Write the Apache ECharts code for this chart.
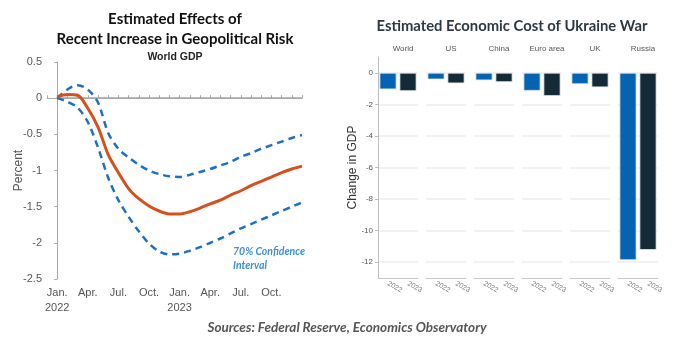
<!DOCTYPE html>
<html>
<head>
<meta charset="utf-8">
<script src="https://cdn.jsdelivr.net/npm/echarts@6/dist/echarts.min.js"></script>
<style>
  html, body { margin: 0; padding: 0; background: #fff; }
  #chart { width: 700px; height: 351px; }
</style>
</head>
<body>
<div id="chart"></div>
<script>
// left panel: world GDP response, months since Jan 2022
var months = [0, 1, 2, 3, 4, 5, 6, 7, 8, 9, 10, 11, 12, 13, 14, 15, 16, 17, 18, 19, 20, 21, 22, 23, 24];
var central = [0.02, 0.05, 0.04, -0.14, -0.40, -0.78, -1.03, -1.25, -1.39, -1.49, -1.56, -1.60, -1.60, -1.57, -1.52, -1.46, -1.41, -1.34, -1.28, -1.21, -1.15, -1.09, -1.03, -0.98, -0.94];
var upper = [0.0, 0.12, 0.18, 0.12, -0.06, -0.48, -0.70, -0.82, -0.92, -1.00, -1.05, -1.08, -1.09, -1.06, -1.02, -0.98, -0.93, -0.88, -0.81, -0.76, -0.70, -0.65, -0.60, -0.55, -0.51];
var lower = [0.0, -0.05, -0.13, -0.33, -0.68, -1.10, -1.41, -1.64, -1.84, -2.01, -2.12, -2.16, -2.15, -2.11, -2.06, -2.00, -1.94, -1.87, -1.80, -1.74, -1.68, -1.62, -1.56, -1.50, -1.44];
var monthLabels = {0: 'Jan.\n2022', 3: 'Apr.', 6: 'Jul.', 9: 'Oct.', 12: 'Jan.\n2023', 15: 'Apr.', 18: 'Jul.', 21: 'Oct.'};

// right panel: economic cost by region
var regions = ['World', 'US', 'China', 'Euro area', 'UK', 'Russia'];
var years = ['2022', '2023'];
var cost2022 = [-1.05, -0.42, -0.48, -1.14, -0.72, -11.87];
var cost2023 = [-1.16, -0.67, -0.59, -1.47, -0.92, -11.22];

function pairs(ys) {
    return months.map(function(m, i) { return [m, ys[i]]; });
}

var chart = echarts.init(document.getElementById('chart'));

var titles = [
    {
        text: 'Estimated Effects of\nRecent Increase in Geopolitical Risk',
        left: 170, top: 4, textAlign: 'center',
        textStyle: { fontFamily: 'Lato', fontWeight: 'bold', fontSize: 15, lineHeight: 20, color: '#111' }
    },
    {
        text: 'World GDP',
        left: 170, top: 47, textAlign: 'center',
        textStyle: { fontFamily: 'Liberation Sans', fontWeight: 'bold', fontSize: 10.5, color: '#222' }
    },
    {
        text: '70% Confidence\nInterval',
        left: 228, top: 240,
        textStyle: { fontFamily: 'Lato', fontStyle: 'italic', fontWeight: 'bold', fontSize: 10.5, lineHeight: 14, color: '#3d8fd8' }
    },
    {
        text: 'Estimated Economic Cost of Ukraine War',
        left: 507, top: 14, textAlign: 'center',
        textStyle: { fontFamily: 'Lato', fontWeight: 'bold', fontSize: 14.8, color: '#2e3a43' }
    },
    {
        text: 'Sources: Federal Reserve, Economics Observatory',
        left: 342, top: 316, textAlign: 'center',
        textStyle: { fontFamily: 'Lato', fontStyle: 'italic', fontWeight: 'bold', fontSize: 13.5, color: '#555' }
    }
];

var grids = [{ left: 47, width: 255, top: 62, height: 217 }];
var xAxes = [{
    type: 'value', gridIndex: 0, min: -1, max: 24, interval: 1,
    axisLine: { lineStyle: { color: '#aaa' } },
    axisTick: { inside: true, length: 3, lineStyle: { color: '#aaa' } },
    axisLabel: {
        color: '#555', fontFamily: 'Liberation Sans', fontSize: 11, lineHeight: 15, margin: 6,
        formatter: function(v) { return monthLabels[v] || ''; }
    },
    splitLine: { show: false }
}];
var yAxes = [{
    type: 'value', gridIndex: 0, min: -2.5, max: 0.5, interval: 0.5,
    name: 'Percent', nameLocation: 'middle', nameGap: 22, nameMoveOverlap: false,
    nameTextStyle: { color: '#555', fontFamily: 'Liberation Sans', fontSize: 12 },
    axisLine: { show: true, lineStyle: { color: '#aaa' } },
    axisTick: { show: true, length: 3, lineStyle: { color: '#aaa' } },
    axisLabel: { color: '#555', fontFamily: 'Liberation Sans', fontSize: 11, margin: 5 },
    splitLine: { show: false }
}];
var series = [
    {
        type: 'line', xAxisIndex: 0, yAxisIndex: 0, data: pairs(upper), smooth: 0.3,
        symbol: 'none', lineStyle: { color: '#1c6fc6', width: 2.5, type: [7, 5] }, z: 3
    },
    {
        type: 'line', xAxisIndex: 0, yAxisIndex: 0, data: pairs(lower), smooth: 0.3,
        symbol: 'none', lineStyle: { color: '#1c6fc6', width: 2.5, type: [7, 5] }, z: 3
    },
    {
        type: 'line', xAxisIndex: 0, yAxisIndex: 0, data: pairs(central), smooth: 0.3,
        symbol: 'none', lineStyle: { color: '#d5501c', width: 3 }, z: 4,
        markLine: {
            silent: true, symbol: 'none', label: { show: false },
            lineStyle: { color: '#a6a6a6', width: 1.5, type: 'solid' },
            data: [[{ coord: [0, 0] }, { coord: [24, 0] }]],
            z: 1
        }
    }
];

regions.forEach(function(name, i) {
    var gi = i + 1;
    var left = 378 + i * 48;
    grids.push({ left: left, width: 40, top: 57, height: 221 });
    titles.push({
        text: name, left: left + 20, top: 40, textAlign: 'center',
        textStyle: { fontFamily: 'Liberation Sans', fontWeight: 'normal', fontSize: 8, color: '#555' }
    });
    xAxes.push({
        type: 'category', gridIndex: gi, data: years, position: 'bottom',
        axisLine: { onZero: false, lineStyle: { color: '#c8c8c8' } },
        axisTick: { alignWithLabel: true, length: 3, lineStyle: { color: '#bbb' } },
        axisLabel: { rotate: -30, fontSize: 7, color: '#777', fontFamily: 'Liberation Sans', margin: 5 }
    });
    yAxes.push({
        type: 'value', gridIndex: gi, min: -13, max: 1, splitNumber: 7,
        name: i === 0 ? 'Change in GDP' : '', nameLocation: 'middle', nameGap: 19, nameMoveOverlap: false,
        nameTextStyle: { color: '#333', fontFamily: 'Liberation Sans', fontSize: 12 },
        axisLine: { show: i === 0, lineStyle: { color: '#bbb' } },
        axisTick: { show: i === 0, length: 3, lineStyle: { color: '#bbb' } },
        axisLabel: { show: i === 0, showMinLabel: false, showMaxLabel: false, fontSize: 8, color: '#555', fontFamily: 'Liberation Sans', margin: 5 },
        splitLine: { show: true, showMinLine: false, showMaxLine: false, lineStyle: { color: '#eeeeee', width: 1.5 } }
    });
    series.push({
        type: 'bar', xAxisIndex: gi, yAxisIndex: gi, barWidth: 17,
        data: [
            { value: cost2022[i], itemStyle: { color: '#0563b3' } },
            { value: cost2023[i], itemStyle: { color: '#142a38' } }
        ],
        itemStyle: { borderColor: '#e8e8e8', borderWidth: 0.8 }
    });
});

chart.setOption({
    animation: false,
    title: titles,
    grid: grids,
    xAxis: xAxes,
    yAxis: yAxes,
    series: series
});
</script>
</body>
</html>
